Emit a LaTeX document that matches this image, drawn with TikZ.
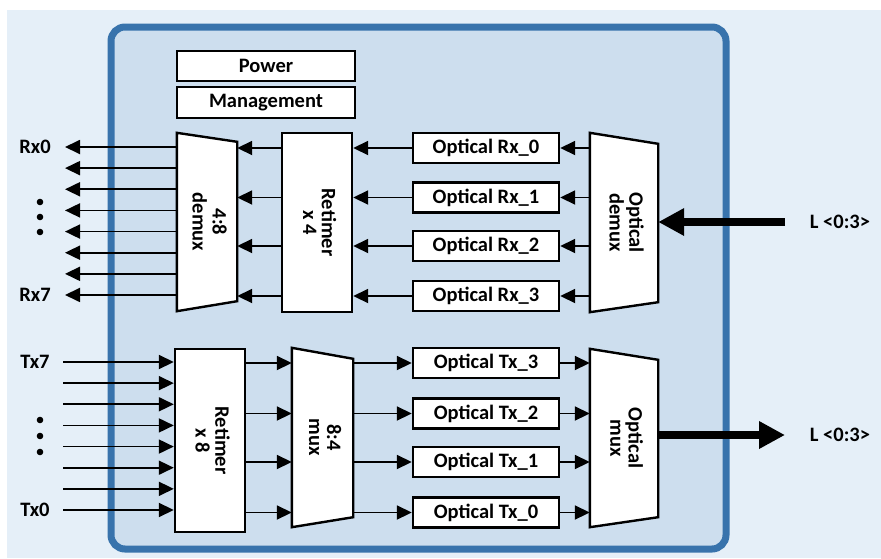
\documentclass[tikz,border=0pt]{standalone}
\usepackage{fontspec}
\usepackage{graphicx}
\setmainfont{Carlito}
\usetikzlibrary{arrows.meta}

\definecolor{pagebg}{HTML}{E5EFF8}
\definecolor{chipbg}{HTML}{CDDEEE}
\definecolor{chipedge}{HTML}{3873AC}

\newcommand{\vlabel}[2]{\rotatebox[origin=c]{-90}{\begin{tabular}{@{}c@{}}#1\\#2\end{tabular}}}

\begin{document}
\begin{tikzpicture}[x = 1pt, y = -1pt, > = {Triangle[length = 15pt, width = 14pt]},
	every node/.style = {font = \fontsize{20.5}{18}\selectfont\bfseries},
	block/.style = {rectangle, draw, line width = 2.4pt, fill = white, inner sep = 0pt},
	optbox/.style = {block, minimum width = 146pt, minimum height = 30pt},
	wire/.style = {->, line width = 1.8pt},
	fibre/.style = {-{Triangle[length = 26pt, width = 26pt]}, line width = 8pt}]

	\useasboundingbox (0, 0) rectangle (881, 558);

	% Background and module outline

	\fill[pagebg] (7, 10) rectangle (881, 558);
	\draw[chipedge, fill = chipbg, line width = 7pt, rounded corners = 14pt] (111, 27) rectangle (726, 549);

	% Power management

	\node[block, minimum width = 178pt, minimum height = 30pt] (power) at (266, 66) {Power};
	\node[block, minimum width = 178pt, minimum height = 31pt] (mgmt) at (266, 102.5) {Management};

	% Receive path

	\node[minimum width = 60pt, minimum height = 178pt, inner sep = 0pt] (demux) at (207, 222) {};
	\draw[line width = 2.4pt, fill = white] (demux.north west) -- ([yshift = -9pt]demux.north east)
		-- ([yshift = 10pt]demux.south east) -- (demux.south west) -- cycle;
	\node at (demux.center) {\vlabel{4:8}{demux}};

	\node[block, minimum width = 70pt, minimum height = 179pt] (rtmrx) at (317, 222.5) {\vlabel{Retimer}{x 4}};

	\node[optbox] (orx0) at (486, 148) {Optical Rx\_0};
	\node[optbox] (orx1) at (486, 197.5) {Optical Rx\_1};
	\node[optbox] (orx2) at (486, 246) {Optical Rx\_2};
	\node[optbox] (orx3) at (486, 296) {Optical Rx\_3};

	\node[minimum width = 68pt, minimum height = 179pt, inner sep = 0pt] (odemux) at (624, 222.5) {};
	\draw[line width = 2.4pt, fill = white] (odemux.north west) -- ([yshift = -11pt]odemux.north east)
		-- ([yshift = 10pt]odemux.south east) -- (odemux.south west) -- cycle;
	\node at (odemux.center) {\vlabel{Optical}{demux}};

	\coordinate (lin) at (785, 222);
	\node (linlabel) at (840, 222) {L <0:3>};

	% Transmit path

	\node[block, minimum width = 70pt, minimum height = 183pt] (rtmtx) at (210, 440.5) {\vlabel{Retimer}{x 8}};

	\node[minimum width = 61pt, minimum height = 179pt, inner sep = 0pt] (mux) at (322.5, 437.5) {};
	\draw[line width = 2.4pt, fill = white] (mux.north west) -- ([yshift = -11pt]mux.north east)
		-- ([yshift = 10pt]mux.south east) -- (mux.south west) -- cycle;
	\node at (mux.center) {\vlabel{8:4}{mux}};

	\node[optbox] (otx3) at (486, 363) {Optical Tx\_3};
	\node[optbox] (otx2) at (486, 413.5) {Optical Tx\_2};
	\node[optbox] (otx1) at (486, 462) {Optical Tx\_1};
	\node[optbox] (otx0) at (486, 512.5) {Optical Tx\_0};

	\node[minimum width = 68pt, minimum height = 178pt, inner sep = 0pt] (omux) at (624, 438) {};
	\draw[line width = 2.4pt, fill = white] (omux.north west) -- ([yshift = -11pt]omux.north east)
		-- ([yshift = 10pt]omux.south east) -- (omux.south west) -- cycle;
	\node at (omux.center) {\vlabel{Optical}{mux}};

	\coordinate (lout) at (785, 435);
	\node (loutlabel) at (840, 435) {L <0:3>};

	% Electrical lanes

	\node (rx0) at (35, 147) {Rx0};
	\node (rx7) at (35, 295) {Rx7};
	\node (tx7) at (35, 362) {Tx7};
	\node (tx0) at (35, 510) {Tx0};

	\foreach \y in {202, 217, 232, 420, 436, 452}
		\fill (40, \y) circle (3.3pt);

	\foreach \i in {0, ..., 7} {
		\coordinate (rxend\i) at (65, 147 + 21.14 * \i);
		\coordinate (txend\i) at (63, 362 + 21.14 * \i);
		\draw[wire] (demux.west |- rxend\i) -- (rxend\i);
		\draw[wire] (txend\i) -- (rtmtx.west |- txend\i);
	}

	% Lane connections between blocks

	\begin{scope}[wire]

		\foreach \n in {orx0, orx1, orx2, orx3} {
			\draw (odemux.west |- \n) -- (\n.east);
			\draw (\n.west) -- (rtmrx.east |- \n);
			\draw (rtmrx.west |- \n) -- (demux.east |- \n);
		}

		\foreach \n in {otx0, otx1, otx2, otx3} {
			\draw (rtmtx.east |- \n) -- (mux.west |- \n);
			\draw (mux.east |- \n) -- (\n.west);
			\draw (\n.east) -- (omux.west |- \n);
		}

	\end{scope}

	% Fibre ports

	\draw[fibre] (lin) -- (odemux.east |- lin);
	\draw[fibre] (omux.east |- lout) -- (lout);

\end{tikzpicture}
\end{document}
